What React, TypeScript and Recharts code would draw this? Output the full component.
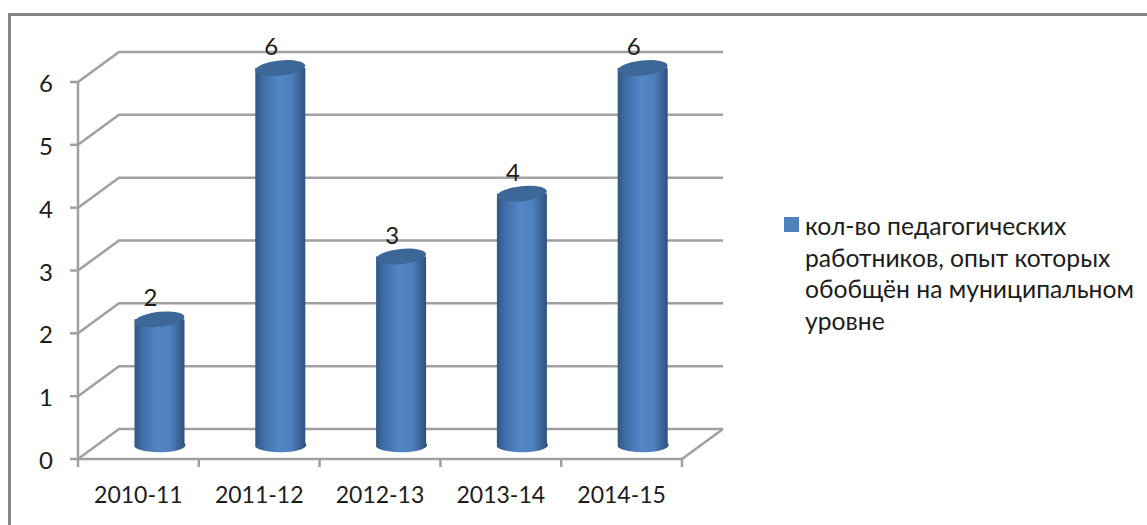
import { BarChart, Bar, XAxis, YAxis, CartesianGrid, Legend, LabelList } from "recharts";

const categories = ["2010-11", "2011-12", "2012-13", "2013-14", "2014-15"];
const counts = [2, 6, 3, 4, 6];
const yTicks = [0, 1, 2, 3, 4, 5, 6];
const seriesName = "кол-во педагогических работников, опыт которых обобщён на муниципальном уровне";

const data = categories.map((period, i) => ({ period, count: counts[i] }));

const FONT = "Lato, 'Open Sans', sans-serif";
const AXIS = "#a0a0a0";
const TEXT = "#1c1c1c";
// fake 3D: how far the back wall sits from the front axes
const DEPTH_X = 41;
const DEPTH_Y = 30;
const BAND = 604 / categories.length;
const TICK = 8;

function GridLine(props: any) {
  const { x1, x2, y1 } = props;
  return (
    <g stroke={AXIS} strokeWidth={2.5} fill="none">
      <polyline points={`${x1},${y1} ${x1 + DEPTH_X},${y1 - DEPTH_Y} ${x2 + DEPTH_X},${y1 - DEPTH_Y}`} />
    </g>
  );
}

function YTick(props: any) {
  const { x, y, payload } = props;
  return (
    <g>
      <line x1={x} x2={x + TICK} y1={y} y2={y} stroke={AXIS} strokeWidth={2.5} />
      <text x={x - 24} y={y + 10} textAnchor="middle" fontSize={24} fontFamily={FONT} fill={TEXT}>
        {payload.value}
      </text>
    </g>
  );
}

function XTick(props: any) {
  const { x, y, payload, index } = props;
  const last = index === categories.length - 1;
  const axisY = y - TICK;
  return (
    <g>
      <line x1={x - BAND / 2} x2={x - BAND / 2} y1={axisY} y2={y} stroke={AXIS} strokeWidth={2.5} />
      {last && (
        <>
          <line x1={x + BAND / 2} x2={x + BAND / 2} y1={axisY} y2={y} stroke={AXIS} strokeWidth={2.5} />
          <line
            x1={x + BAND / 2}
            x2={x + BAND / 2 + DEPTH_X}
            y1={axisY}
            y2={axisY - DEPTH_Y}
            stroke={AXIS}
            strokeWidth={2.5}
          />
        </>
      )}
      <text x={x} y={y + 36} textAnchor="middle" fontSize={23} fontFamily={FONT} fill={TEXT}>
        {payload.value}
      </text>
    </g>
  );
}

function Cylinder(props: any) {
  const { x, y, width, height } = props;
  const left = x + DEPTH_X / 2 + 1;
  const top = y - DEPTH_Y / 2 + 1;
  const rx = width / 2;
  const bottom = y + height - DEPTH_Y / 2 + 3;
  const cx = left + rx;
  return (
    <g>
      <path
        d={`M${left},${top} L${left},${bottom} A${rx},7 0 0 0 ${left + width},${bottom - 4} L${left + width},${top} Z`}
        fill="url(#cylinderBody)"
      />
      <ellipse cx={cx} cy={top} rx={rx} ry={7.5} fill="#3d6797" transform={`rotate(-6 ${cx} ${top})`} />
    </g>
  );
}

function ValueLabel(props: any) {
  const { x, y, width, value } = props;
  return (
    <text
      x={x + width / 2 + DEPTH_X / 2 - 8}
      y={y - DEPTH_Y / 2 - 12}
      textAnchor="middle"
      fontSize={24}
      fontFamily={FONT}
      fill={TEXT}
    >
      {value}
    </text>
  );
}

function LegendBox() {
  return (
    <div
      style={{
        position: "relative",
        marginLeft: 123,
        width: 340,
        fontFamily: FONT,
        fontSize: 24.7,
        lineHeight: "31.5px",
        color: TEXT,
      }}
    >
      <span
        style={{ position: "absolute", left: -21, top: 7, width: 15, height: 15, background: "#4f81bd" }}
      />
      {seriesName}
    </div>
  );
}

export default function App() {
  return (
    <div style={{ position: "absolute", left: 0, top: 0, width: 1147, height: 525, background: "#fff", overflow: "hidden" }}>
      <div
        style={{
          position: "absolute",
          left: 8,
          top: 13,
          width: 1147,
          height: 525,
          borderTop: "3px solid #868686",
          borderLeft: "3px solid #868686",
        }}
      />
      <BarChart
        width={1147}
        height={525}
        data={data}
        margin={{ top: 82, right: 0, bottom: 0, left: 8 }}
        barCategoryGap="10%"
      >
        <defs>
          <linearGradient id="cylinderBody" x1="0" x2="1" y1="0" y2="0">
            <stop offset="0%" stopColor="#2f5685" />
            <stop offset="15%" stopColor="#3f6da6" />
            <stop offset="45%" stopColor="#5386c7" />
            <stop offset="70%" stopColor="#4f80bf" />
            <stop offset="100%" stopColor="#2c4f7a" />
          </linearGradient>
        </defs>
        <CartesianGrid vertical={false} horizontal={GridLine} />
        <XAxis
          dataKey="period"
          height={66}
          stroke={AXIS}
          strokeWidth={2.5}
          tickLine={false}
          tick={XTick}
          interval={0}
        />
        <YAxis
          width={70}
          domain={[0, 6]}
          ticks={yTicks}
          stroke={AXIS}
          strokeWidth={2.5}
          tickLine={false}
          tick={YTick}
          interval={0}
        />
        <Legend
          layout="vertical"
          align="right"
          verticalAlign="middle"
          content={LegendBox}
          wrapperStyle={{ width: 465, right: 0, top: 210 }}
        />
        <Bar dataKey="count" name={seriesName} barSize={50} shape={Cylinder} isAnimationActive={false}>
          <LabelList dataKey="count" content={ValueLabel} />
        </Bar>
      </BarChart>
    </div>
  );
}
